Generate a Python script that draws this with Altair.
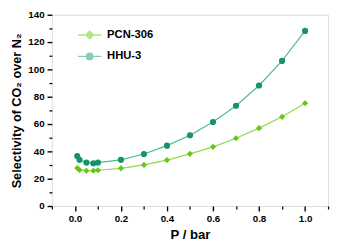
import altair as alt
import pandas as pd

pressure = [0.01, 0.02, 0.05, 0.08, 0.10, 0.2, 0.3, 0.4, 0.5, 0.6, 0.7, 0.8, 0.9, 1.0]
hhu3 = [36.6, 33.8, 31.8, 31.3, 31.8, 33.8, 38.1, 44.2, 51.8, 61.5, 73.4, 88.2, 106.2, 128.2]
pcn306 = [27.8, 26.4, 25.8, 25.8, 26.2, 27.6, 30.1, 33.6, 38.2, 43.3, 49.6, 57.0, 65.3, 75.2]
series_names = ["PCN-306", "HHU-3"]
marker_colors = ["#62c814", "#16936b"]
line_colors = ["#8fdc4a", "#4dbb95"]
x_major = [0.0, 0.2, 0.4, 0.6, 0.8, 1.0]
x_minor = [-0.1, 0.1, 0.3, 0.5, 0.7, 0.9, 1.1]
y_major = [0, 20, 40, 60, 80, 100, 120, 140]
y_minor = [10, 30, 50, 70, 90, 110, 130]

rows = []
for p, v in zip(pressure, pcn306):
    rows.append({"P": p, "S": v, "series": "PCN-306"})
for p, v in zip(pressure, hhu3):
    rows.append({"P": p, "S": v, "series": "HHU-3"})
df = pd.DataFrame(rows)

FONT = "Liberation Sans"
xs = alt.Scale(domain=[-0.1, 1.1], nice=False, zero=False)
ys = alt.Scale(domain=[0, 140], nice=False)

base = alt.Chart(df)

lines = base.mark_line(strokeWidth=1.2).encode(
    x=alt.X("P:Q", scale=xs, axis=None),
    y=alt.Y("S:Q", scale=ys, axis=None),
    stroke=alt.Stroke("series:N", scale=alt.Scale(domain=series_names, range=line_colors), legend=None),
    detail="series:N",
)

points = base.mark_point(filled=True, size=40, opacity=1).encode(
    x=alt.X("P:Q", scale=xs, axis=alt.Axis(
        orient="bottom", values=x_major, format=".1f", tickSize=5, tickWidth=1.4,
        domain=False, labelFontSize=10, labelFontWeight="bold", labelFont=FONT,
        labelColor="black", labelPadding=3, grid=False, title="P / bar",
        titleFontSize=13.5, titleFont=FONT, titleFontWeight="bold", titlePadding=4,
        tickColor="black", titleColor="black")),
    y=alt.Y("S:Q", scale=ys, axis=alt.Axis(
        orient="left", values=y_major, tickSize=5, tickWidth=1.4, domain=False,
        labelFontSize=10, labelFontWeight="bold", labelFont=FONT, labelColor="black",
        labelPadding=3, grid=False, title="Selectivity of CO₂ over N₂",
        titleFontSize=13, titleFont=FONT, titleFontWeight="bold", titlePadding=5,
        tickColor="black", titleColor="black")),
    color=alt.Color("series:N", scale=alt.Scale(domain=series_names, range=marker_colors), legend=None),
    shape=alt.Shape("series:N", scale=alt.Scale(domain=series_names, range=["diamond", "circle"]),
                    legend=None),
)

minor = base.mark_point(opacity=0).encode(
    x=alt.X("P:Q", scale=xs, axis=alt.Axis(
        orient="bottom", values=x_minor, tickSize=3, tickWidth=1.3, labels=False,
        domain=False, grid=False, title=None, tickColor="black")),
    y=alt.Y("S:Q", scale=ys, axis=alt.Axis(
        orient="left", values=y_minor, tickSize=3, tickWidth=1.3, labels=False,
        domain=False, grid=False, title=None, tickColor="black")),
)

legend_shapes = [
    "M-3.4,0H3.4M0,-1.15L1.15,0L0,1.15L-1.15,0Z",
    "M-3.4,0H3.4M-0.95,0A0.95,0.95,0,1,1,0.95,0A0.95,0.95,0,1,1,-0.95,0Z",
]
leg = alt.Legend(
    orient="none", legendX=33, legendY=15, title=None,
    labelFontSize=11.5, labelFontWeight="bold", labelFont=FONT,
    labelColor="black", symbolSize=49, symbolStrokeWidth=1.3,
    labelOffset=12, rowPadding=8, padding=0,
)
legend_layer = base.transform_filter("false").mark_point(filled=True).encode(
    fill=alt.Fill("series:N", scale=alt.Scale(domain=series_names, range=marker_colors), legend=leg),
    stroke=alt.Stroke("series:N", scale=alt.Scale(domain=series_names, range=line_colors), legend=leg),
    shape=alt.Shape("series:N", scale=alt.Scale(domain=series_names, range=legend_shapes), legend=leg),
)

chart = alt.layer(minor, lines, points, legend_layer).resolve_axis(
    x="independent", y="independent"
).resolve_scale(
    fill="independent", stroke="independent", shape="independent"
).properties(
    width=283, height=196,
    autosize=alt.AutoSizeParams(type="none"),
    padding={"left": 45, "top": 4, "right": 3, "bottom": 36},
).configure_view(stroke="black", strokeWidth=2).configure(background="white")

chart.save("out.html", embed_options={"renderer": "svg", "actions": False})
